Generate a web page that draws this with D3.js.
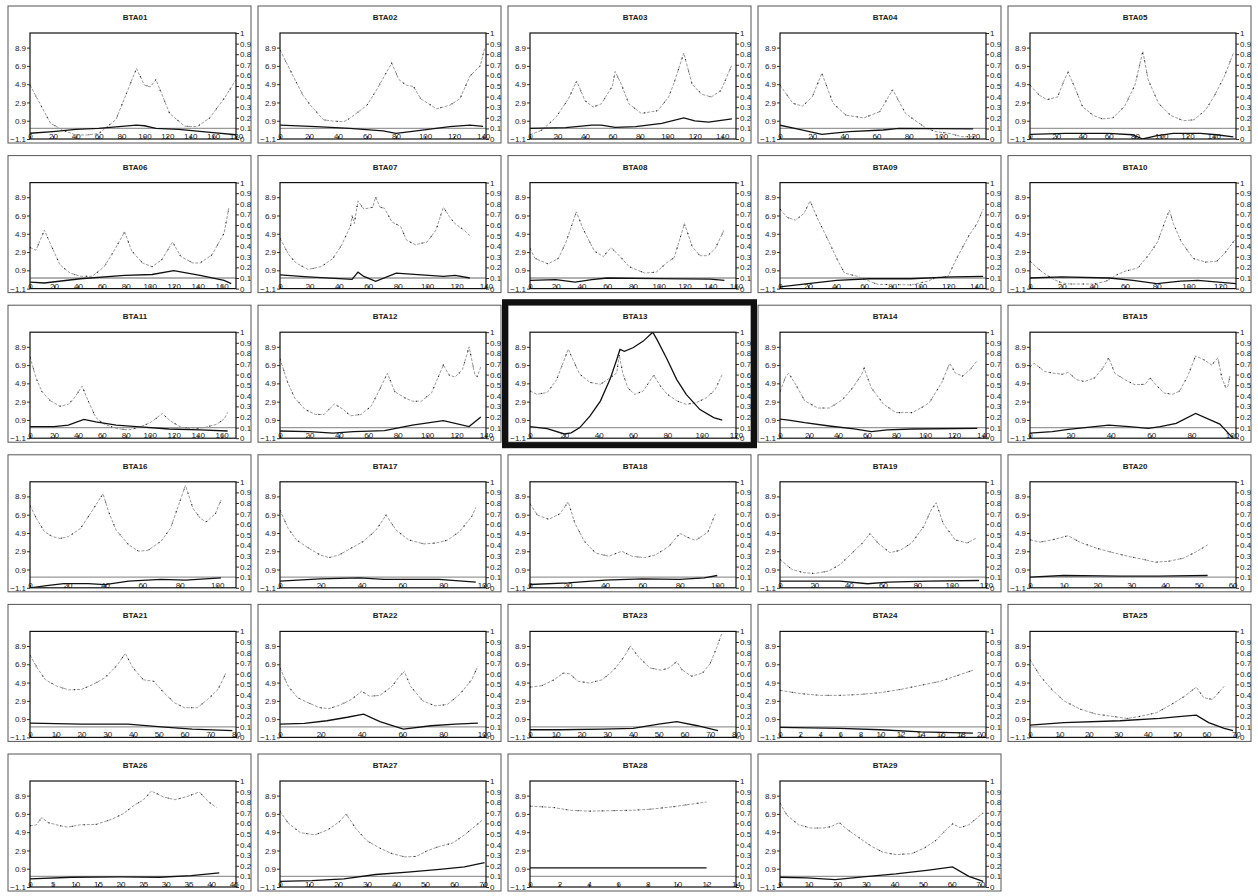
<!DOCTYPE html>
<html lang="en">
<head>
<meta charset="UTF-8">
<title>LOD profiles BTA01-BTA29</title>
<script src="https://d3js.org/d3.v7.min.js"></script>
<style>
    body{
        margin: 0;
        background: white;
        font-family: "Liberation Sans", Arial, sans-serif;
    }
    svg{
        display: block;
    }
    .axis text{
        font-size: 8px;
        fill: #222;
    }
    .axis line{
        stroke: #333;
    }
    .title{
        font-size: 8px;
        font-weight: bold;
        fill: #222;
    }
</style>
</head>
<body>
<svg></svg>
<script>
    // chromosome names, axis lengths and tick step per panel
    const chromosomes = ['BTA01','BTA02','BTA03','BTA04','BTA05','BTA06','BTA07','BTA08','BTA09','BTA10',
        'BTA11','BTA12','BTA13','BTA14','BTA15','BTA16','BTA17','BTA18','BTA19','BTA20',
        'BTA21','BTA22','BTA23','BTA24','BTA25','BTA26','BTA27','BTA28','BTA29'];
    const xMax = [180,142,150,128,157,172,140,160,147,130,172,140,120,142,102,110,101,110,120,61,80,101,80,20.5,70,45.5,71,14,72];
    const xStep = [20,20,20,20,20,20,20,20,20,20,20,20,20,20,20,20,20,20,20,10,10,20,10,2,10,5,10,2,10];
    const highlighted = 'BTA13';

    const leftTicks = [-1.1, 0.9, 2.9, 4.9, 6.9, 8.9];
    const rightTicks = [0, 0.1, 0.2, 0.3, 0.4, 0.5, 0.6, 0.7, 0.8, 0.9, 1];
    const threshold = 0.1;

    // dashed curve, left axis: [position, value]
    const lodCurves = [
        [[0,4.8],[18,0.6],[30,-0.2],[40,-0.66],[50,-0.66],[60,-0.5],[75,1.0],[93,6.6],[100,4.8],[105,4.6],[110,5.4],[122,1.7],[135,0.3],[146,0.25],[157,1.2],[170,3.4],[180,5.4]],
        [[0,8.65],[9,5.8],[16,3.65],[21,2.6],[30,1.0],[37,0.85],[44,0.8],[48,1.15],[60,2.6],[67,4.4],[77,7.2],[82,5.4],[87,4.8],[92,4.65],[97,3.3],[108,2.2],[117,2.6],[124,3.3],[131,5.8],[138,6.9],[141,8.8]],
        [[0,-0.65],[9,-0.1],[19,1.3],[28,3.3],[34,5.25],[40,3.1],[46,2.4],[52,2.75],[60,4.7],[62,6.3],[67,4.7],[72,2.75],[81,1.7],[89,1.9],[93,2.0],[101,3.5],[105,5.1],[112,8.3],[118,4.9],[125,3.8],[132,3.5],[139,4.2],[147,7.0]],
        [[0,4.8],[8,2.8],[14,2.5],[20,3.5],[26,6.1],[33,2.8],[41,1.5],[47,1.35],[52,1.2],[62,1.9],[70,4.3],[78,1.7],[85,0.8],[91,0.07],[97,-0.3],[105,-0.48],[113,-0.85],[122,-0.85]],
        [[0,4.8],[7,3.7],[13,3.2],[21,3.5],[26,5.3],[29,6.2],[34,4.6],[40,2.45],[48,1.5],[55,1.1],[63,1.2],[72,2.45],[80,4.8],[86,8.5],[90,5.4],[98,2.8],[107,1.5],[117,0.9],[125,1.0],[134,2.1],[140,3.5],[148,5.7],[155,8.3]],
        [[0,3.4],[5,3.1],[12,5.3],[15,4.4],[25,1.5],[33.5,0.6],[42,0.25],[52,0.25],[62,1.3],[70,3.0],[79,5.1],[85,3.0],[94,1.7],[102,1.3],[110,2.05],[119,4.0],[126,2.4],[136,1.7],[142,1.7],[152,2.6],[162,4.95],[166,7.7]],
        [[0,4.4],[6,2.6],[11,1.7],[19,1.0],[28,1.3],[36,2.2],[42,3.7],[48,5.8],[49,6.9],[50.5,6.0],[53,8.5],[57,7.6],[63,7.8],[65,8.9],[68,7.8],[71,7.7],[76,6.2],[82,5.7],[86,4.2],[92,3.7],[100,4.0],[106,5.3],[111,7.8],[115,6.8],[119,6.0],[125,5.3],[129,4.7]],
        [[0,3.3],[4,2.2],[14,1.6],[22,2.2],[28,4.0],[36,7.3],[41,5.5],[50,3.0],[57,2.4],[63,3.4],[70,2.4],[77,1.3],[89,0.6],[98,0.7],[106,1.7],[112,2.3],[120,6.0],[126,3.5],[132,2.5],[138,2.5],[144,3.3],[151,5.4]],
        [[0,7.6],[5,6.7],[11,6.4],[17,7.1],[21.5,8.5],[27,6.5],[35,4.0],[40.5,2.2],[46,0.6],[55,0.25],[64,-0.3],[70,-0.65],[79,-0.65],[93.5,-0.7],[105,-0.3],[111,0.07],[120,0.25],[126,2.2],[135,4.75],[140.5,6.0],[145,7.6]],
        [[0,1.9],[7,0.8],[15,-0.1],[20,-0.47],[25,-0.6],[40,-0.6],[48,-0.3],[55,0.43],[60,0.8],[68,1.15],[75,2.6],[80.5,4.0],[85.5,6.4],[88,7.5],[90.5,6.0],[95.5,4.0],[103,2.2],[111,1.8],[118,1.9],[123,2.8],[130,4.4]],
        [[0,7.8],[5,5.5],[10,4.0],[17,3.0],[25,2.4],[32,2.6],[37,3.3],[43.5,4.6],[48.5,3.0],[55,1.15],[62,0.43],[72,-0.04],[82,-0.2],[90.5,0.07],[100.5,0.6],[110.5,1.6],[117,0.8],[125.5,0.15],[135.5,-0.1],[146,0.07],[156,0.43],[162,1.0],[165,1.7]],
        [[0,7.6],[5,5.1],[10,3.3],[17,2.05],[24,1.5],[30,1.5],[37,2.65],[43,2.05],[48,1.35],[55,1.5],[62,2.4],[67,4.0],[73,6.0],[78,4.0],[85,3.3],[90,2.95],[96,2.95],[103,3.85],[111,6.9],[115,5.8],[119,5.6],[124,6.4],[128.5,8.9],[132.5,5.8],[134,5.65],[136.5,6.7]],
        [[0,4.07],[4,3.7],[10,3.9],[15.5,5.3],[22.3,8.65],[25,7.5],[29,5.9],[35,5.0],[41,4.8],[46.6,5.5],[50.5,6.05],[52,8.0],[54,6.05],[57,4.4],[61,3.7],[66,4.07],[72,5.8],[76,4.6],[80,3.7],[85.4,3.0],[91,2.6],[97,2.8],[103,3.35],[108,4.25],[112,5.9]],
        [[0,4.0],[4,5.65],[6,6.0],[11.5,4.6],[17,3.0],[26,2.2],[34,2.2],[43,3.1],[50,4.4],[56,5.8],[58,6.55],[63,4.4],[71.5,2.6],[80,1.7],[91,1.7],[97,2.2],[103,2.8],[111.5,5.0],[117,7.1],[121,6.0],[126,5.7],[131,6.4],[136,7.4]],
        [[0,6.7],[2,7.1],[7.3,6.2],[12,6.0],[16,5.9],[19,6.1],[23,5.3],[27,5.1],[32,5.5],[36,6.55],[39,7.7],[42,6.0],[47,5.3],[52,4.75],[57,4.8],[59.5,5.5],[62.5,4.7],[66.5,3.85],[70.5,3.7],[74,4.05],[78,5.65],[82,7.9],[86,7.5],[90,6.9],[93,7.7],[95,5.5],[97,4.4],[98,4.6],[99,5.7]],
        [[0,7.9],[3.4,6.5],[7.7,5.05],[12,4.5],[16,4.3],[20.5,4.5],[27,5.4],[33.4,7.4],[39,9.2],[42,7.2],[46,5.2],[52.7,3.6],[58,2.9],[63,3.0],[70,4.0],[75,5.4],[79,7.75],[83,10.1],[87,7.6],[91,6.5],[94,6.1],[99,7.0],[102,8.5]],
        [[0,7.4],[4,5.4],[8,4.15],[14,3.25],[19.6,2.5],[24,2.2],[29,2.5],[35,3.25],[41,4.0],[47,5.2],[52,6.85],[57,5.2],[63,4.15],[70.6,3.7],[76.5,3.8],[82,4.1],[88,5.05],[94,6.7],[96,7.7]],
        [[0,8.1],[4,6.85],[10,6.4],[16,7.0],[20.4,8.3],[24,5.95],[29,4.0],[35,2.7],[42,2.35],[49,2.9],[54.5,2.35],[61,2.2],[67,2.5],[74,3.4],[80,4.85],[85.5,4.3],[88.5,4.1],[95,5.0],[99,7.0]],
        [[0,2.0],[7,0.9],[14,0.55],[20,0.47],[28,0.72],[35,1.45],[42,2.7],[48,3.8],[52.5,4.85],[57,3.8],[64,2.75],[70,3.0],[76.7,3.8],[83.7,5.6],[88,7.4],[91,8.2],[95,5.95],[102,4.15],[109,3.8],[114,4.3]],
        [[0,4.15],[3,3.9],[6.6,4.15],[11.3,4.6],[15,3.85],[19.6,3.25],[24,2.8],[29,2.35],[33.7,2.0],[37,1.7],[41,1.8],[45.5,2.15],[49,2.8],[52.6,3.6]],
        [[0,7.9],[2.8,6.5],[6,5.2],[10.5,4.5],[15,4.1],[20,4.15],[24.5,4.7],[29,5.4],[34,6.85],[37,8.1],[40,6.5],[44,5.2],[48,5.05],[52,3.8],[56,2.7],[60,2.15],[65,2.15],[69,3.05],[73,4.15],[76,5.9]],
        [[0,6.5],[4,4.5],[8.6,3.25],[13.7,2.7],[19.5,2.15],[24,2.05],[29,2.4],[35,3.05],[40,3.95],[44,3.4],[49,3.5],[55,4.5],[58.6,5.6],[61,6.1],[64,4.5],[70,2.9],[76,2.35],[82,2.5],[88,3.6],[94,5.2],[97,6.7]],
        [[0,4.4],[4.5,4.55],[9.3,5.2],[13,5.95],[15.5,5.85],[18.6,5.05],[23,4.85],[28,5.2],[32.6,6.3],[36.6,7.75],[39,8.9],[42,7.75],[46.6,6.5],[51,6.25],[54,6.5],[57,7.2],[59,6.3],[62.7,5.6],[67,5.95],[70,7.0],[72.4,8.65],[74.5,10.3]],
        [[0,4.05],[2,3.7],[4,3.5],[6,3.5],[8,3.6],[10,3.8],[12,4.15],[14,4.6],[16,5.05],[18,5.8],[19.2,6.25]],
        [[0,7.4],[3.5,5.6],[7.4,4.15],[11.5,2.9],[17,2.0],[22.4,1.45],[28,1.2],[33,0.97],[37.4,1.2],[43,1.6],[48,2.5],[52.5,3.4],[56.5,4.4],[59,3.25],[62,3.05],[66,4.5]],
        [[0,5.6],[1.4,5.7],[2.6,6.5],[4,5.95],[6.7,5.6],[8.4,5.45],[11,5.7],[14.6,5.75],[18,6.3],[20.7,6.95],[23.3,7.95],[25,8.4],[26.8,9.4],[29.5,8.75],[32,8.45],[34.7,8.8],[37.4,9.3],[39.5,8.2],[41.2,7.6]],
        [[0,7.2],[2.8,5.9],[7,4.85],[12,4.6],[16.4,5.15],[20.5,6.05],[22.8,6.9],[26,5.35],[30,3.95],[34.4,3.15],[38.6,2.55],[43,2.2],[47,2.25],[51,2.9],[55,3.35],[59.4,3.7],[63.6,4.6],[67.8,5.7],[69.7,6.2]],
        [[0,7.75],[1.6,7.6],[2.7,7.3],[4,7.2],[5.4,7.25],[7,7.3],[8.1,7.4],[9.8,7.7],[11.1,8.0],[12,8.2]],
        [[0,8.1],[2.3,6.8],[6.5,5.7],[10.8,5.35],[15,5.35],[17.8,5.5],[20.7,5.95],[23.5,5.2],[27.8,4.25],[32,3.35],[36,2.7],[40.5,2.45],[46,2.55],[50.4,3.15],[54.7,4.05],[58,5.15],[60.3,5.8],[63,5.4],[66,5.7],[69.4,6.6],[71,7.0]]
    ];

    // solid curve, right axis (0-1): [position, value]
    const probCurves = [
        [[0,0.054],[20,0.07],[40,0.09],[60,0.1],[80,0.12],[93,0.13],[100,0.125],[110,0.1],[130,0.09],[160,0.06],[180,0.04]],
        [[0,0.13],[25,0.117],[48,0.1],[71,0.076],[80,0.054],[94,0.076],[117,0.117],[131,0.13],[140,0.12]],
        [[0,0.1],[26,0.107],[45,0.13],[52,0.13],[62,0.11],[77,0.117],[96,0.148],[112,0.2],[120,0.17],[130,0.16],[147,0.19]],
        [[0,0.13],[12,0.09],[26,0.044],[43,0.07],[64,0.085],[74,0.1],[120,0.095]],
        [[0,0.044],[27,0.054],[60,0.054],[78,0.04],[86,0.0],[96,0.03],[109,0.054],[130,0.054],[142,0.04],[155,0.02]],
        [[0,0.062],[12,0.053],[42,0.093],[79,0.124],[102,0.133],[120,0.17],[142,0.124],[162,0.078],[168,0.047]],
        [[0,0.13],[19,0.11],[49,0.087],[53,0.155],[57,0.115],[65,0.068],[79,0.146],[111,0.115],[119,0.124],[129,0.1]],
        [[0,0.078],[20,0.084],[35,0.062],[48,0.084],[60,0.1],[100,0.095],[140,0.09],[151,0.078]],
        [[0,0.016],[20,0.047],[40.5,0.078],[64,0.093],[93.5,0.093],[123,0.11],[145,0.115]],
        [[0,0.1],[20,0.11],[50,0.1],[65,0.078],[80,0.047],[95,0.07],[106,0.078],[130,0.047]],
        [[0,0.11],[20,0.11],[32,0.124],[45,0.177],[55,0.155],[72,0.124],[89,0.11],[116,0.087],[142,0.078],[165,0.068]],
        [[0,0.068],[20,0.062],[36,0.047],[50,0.062],[71,0.071],[90,0.124],[111,0.165],[128.5,0.11],[136.5,0.2]],
        [[0,0.11],[10,0.09],[20,0.04],[24,0.05],[29,0.1],[35,0.21],[41,0.35],[46.6,0.555],[50.5,0.74],[52.4,0.837],[55,0.82],[60,0.853],[66,0.916],[71.5,1.0],[74,0.93],[80,0.74],[85.4,0.555],[91,0.414],[99,0.27],[107,0.194],[112,0.17]],
        [[0,0.18],[6,0.17],[17,0.146],[34,0.115],[51,0.087],[63,0.062],[74,0.078],[91,0.087],[136,0.093]],
        [[0,0.047],[11,0.062],[19,0.084],[39,0.124],[49,0.11],[58.6,0.093],[64.5,0.11],[72.4,0.14],[82,0.233],[94,0.133],[100,0.01]],
        [[0,0.0],[10,0.022],[18,0.04],[31,0.04],[40,0.03],[52.7,0.063],[70,0.079],[83,0.072],[102,0.094]],
        [[0,0.063],[19.6,0.085],[39,0.094],[51,0.079],[78,0.079],[96,0.053]],
        [[0,0.031],[20.4,0.047],[40,0.072],[60,0.085],[80,0.079],[93,0.094],[100,0.116]],
        [[0,0.063],[35,0.063],[51,0.038],[63,0.053],[86,0.063],[116,0.069]],
        [[0,0.1],[10,0.116],[26.6,0.11],[38,0.11],[52.6,0.116]],
        [[0,0.135],[20,0.126],[38,0.126],[51,0.1],[63,0.079],[78.6,0.063]],
        [[0,0.126],[12,0.132],[23,0.157],[33,0.19],[41,0.22],[49,0.148],[60.5,0.079],[74,0.11],[86,0.126],[97,0.135]],
        [[0,0.072],[12,0.072],[28,0.079],[40,0.085],[50,0.126],[57,0.148],[65,0.11],[73,0.063]],
        [[0,0.094],[6,0.085],[10,0.072],[14,0.053],[19.2,0.041]],
        [[0,0.116],[11.5,0.14],[30.6,0.157],[44,0.18],[52.5,0.2],[56.5,0.21],[60.7,0.14],[66,0.085],[69,0.063]],
        [[0,0.076],[9.3,0.092],[20,0.095],[28.6,0.092],[35.6,0.108],[41.8,0.134]],
        [[0,0.054],[11,0.06],[22,0.076],[33,0.118],[44,0.14],[55,0.166],[63.6,0.19],[70.5,0.23]],
        [[0,0.18],[12,0.18]],
        [[0,0.092],[9.3,0.086],[19.3,0.07],[29,0.095],[40.5,0.124],[52,0.16],[60.3,0.19],[66,0.1],[71,0.054]]
    ];

    const width = 1258;
    const height = 896;
    const svg = d3.select('svg')
        .attr('width', width)
        .attr('height', height);

    /* panel geometry */
    const boxW = 243, boxH = 137;
    const colStep = 250, rowStep = 149.6;
    const plot = {left: 22, right: 228, top: 27, bottom: 133};

    chromosomes.forEach(function(name, i){
        const col = i % 5;
        const row = Math.floor(i / 5);
        const g = svg.append('g')
            .attr('transform', `translate(${8 + col * colStep},${6 + row * rowStep})`);

        g.append('rect')
            .attr('width', boxW)
            .attr('height', boxH)
            .attr('fill', 'white')
            .attr('stroke', '#555')
            .attr('stroke-width', 1);

        if(name === highlighted){
            g.append('rect')
                .attr('x', -3).attr('y', -3)
                .attr('width', boxW + 6)
                .attr('height', boxH + 6)
                .attr('fill', 'none')
                .attr('stroke', '#111')
                .attr('stroke-width', 6);
        }

        /* clip labels to the box like the scan */
        g.append('clipPath').attr('id', 'box' + i)
            .append('rect').attr('width', boxW).attr('height', boxH);
        g.append('clipPath').attr('id', 'plot' + i)
            .append('rect')
            .attr('x', plot.left).attr('y', plot.top)
            .attr('width', plot.right - plot.left)
            .attr('height', plot.bottom - plot.top);

        const inner = g.append('g').attr('clip-path', `url(#box${i})`);

        const x = d3.scaleLinear().domain([0, xMax[i]]).range([plot.left, plot.right]);
        const yL = d3.scaleLinear().domain([-1.1, 10.5]).range([plot.bottom, plot.top]);
        const yR = d3.scaleLinear().domain([0, 1]).range([plot.bottom, plot.top]);

        inner.append('text')
            .attr('class', 'title')
            .attr('x', (plot.left + plot.right) / 2 + 2)
            .attr('y', 14)
            .attr('text-anchor', 'middle')
            .text(name);

        /* left axis */
        const la = inner.append('g')
            .attr('class', 'axis')
            .attr('transform', `translate(${plot.left},0)`)
            .call(d3.axisLeft(yL).tickValues(leftTicks).tickSize(3).tickPadding(1).tickFormat(d3.format('.1f')));
        la.select('.domain').remove();

        /* right axis */
        const ra = inner.append('g')
            .attr('class', 'axis')
            .attr('transform', `translate(${plot.right},0)`)
            .call(d3.axisRight(yR).tickValues(rightTicks).tickSize(3).tickPadding(1).tickFormat(d3.format('~g')));
        ra.select('.domain').remove();

        /* x axis, labels sitting on the baseline */
        const xa = inner.append('g')
            .attr('class', 'axis')
            .attr('transform', `translate(0,${plot.bottom})`)
            .call(d3.axisBottom(x).tickValues(d3.range(0, xMax[i] + 0.001, xStep[i])).tickSize(-3));
        xa.select('.domain').remove();
        xa.selectAll('text').attr('y', 0).attr('dy', '0em');

        const lines = inner.append('g').attr('clip-path', `url(#plot${i})`);

        /* threshold */
        lines.append('line')
            .attr('x1', plot.left).attr('x2', plot.right)
            .attr('y1', yR(threshold)).attr('y2', yR(threshold))
            .attr('stroke', '#999')
            .attr('stroke-width', 1.3);

        const lod = d3.line().x(d => x(d[0])).y(d => yL(d[1]));
        const prob = d3.line().x(d => x(d[0])).y(d => yR(d[1]));

        lines.append('path')
            .attr('d', lod(lodCurves[i]))
            .attr('fill', 'none')
            .attr('stroke', '#9a9a9a')
            .attr('stroke-width', 1)
            .attr('stroke-dasharray', '3 1.5');
        lines.append('path')
            .attr('d', lod(lodCurves[i]))
            .attr('fill', 'none')
            .attr('stroke', '#222')
            .attr('stroke-width', 1.1)
            .attr('stroke-dasharray', '1 11');

        lines.append('path')
            .attr('d', prob(probCurves[i]))
            .attr('fill', 'none')
            .attr('stroke', '#111')
            .attr('stroke-width', 1.3);

        /* plot frame */
        inner.append('rect')
            .attr('x', plot.left).attr('y', plot.top)
            .attr('width', plot.right - plot.left)
            .attr('height', plot.bottom - plot.top)
            .attr('fill', 'none')
            .attr('stroke', '#111')
            .attr('stroke-width', 1.2);
    });
</script>
</body>
</html>
